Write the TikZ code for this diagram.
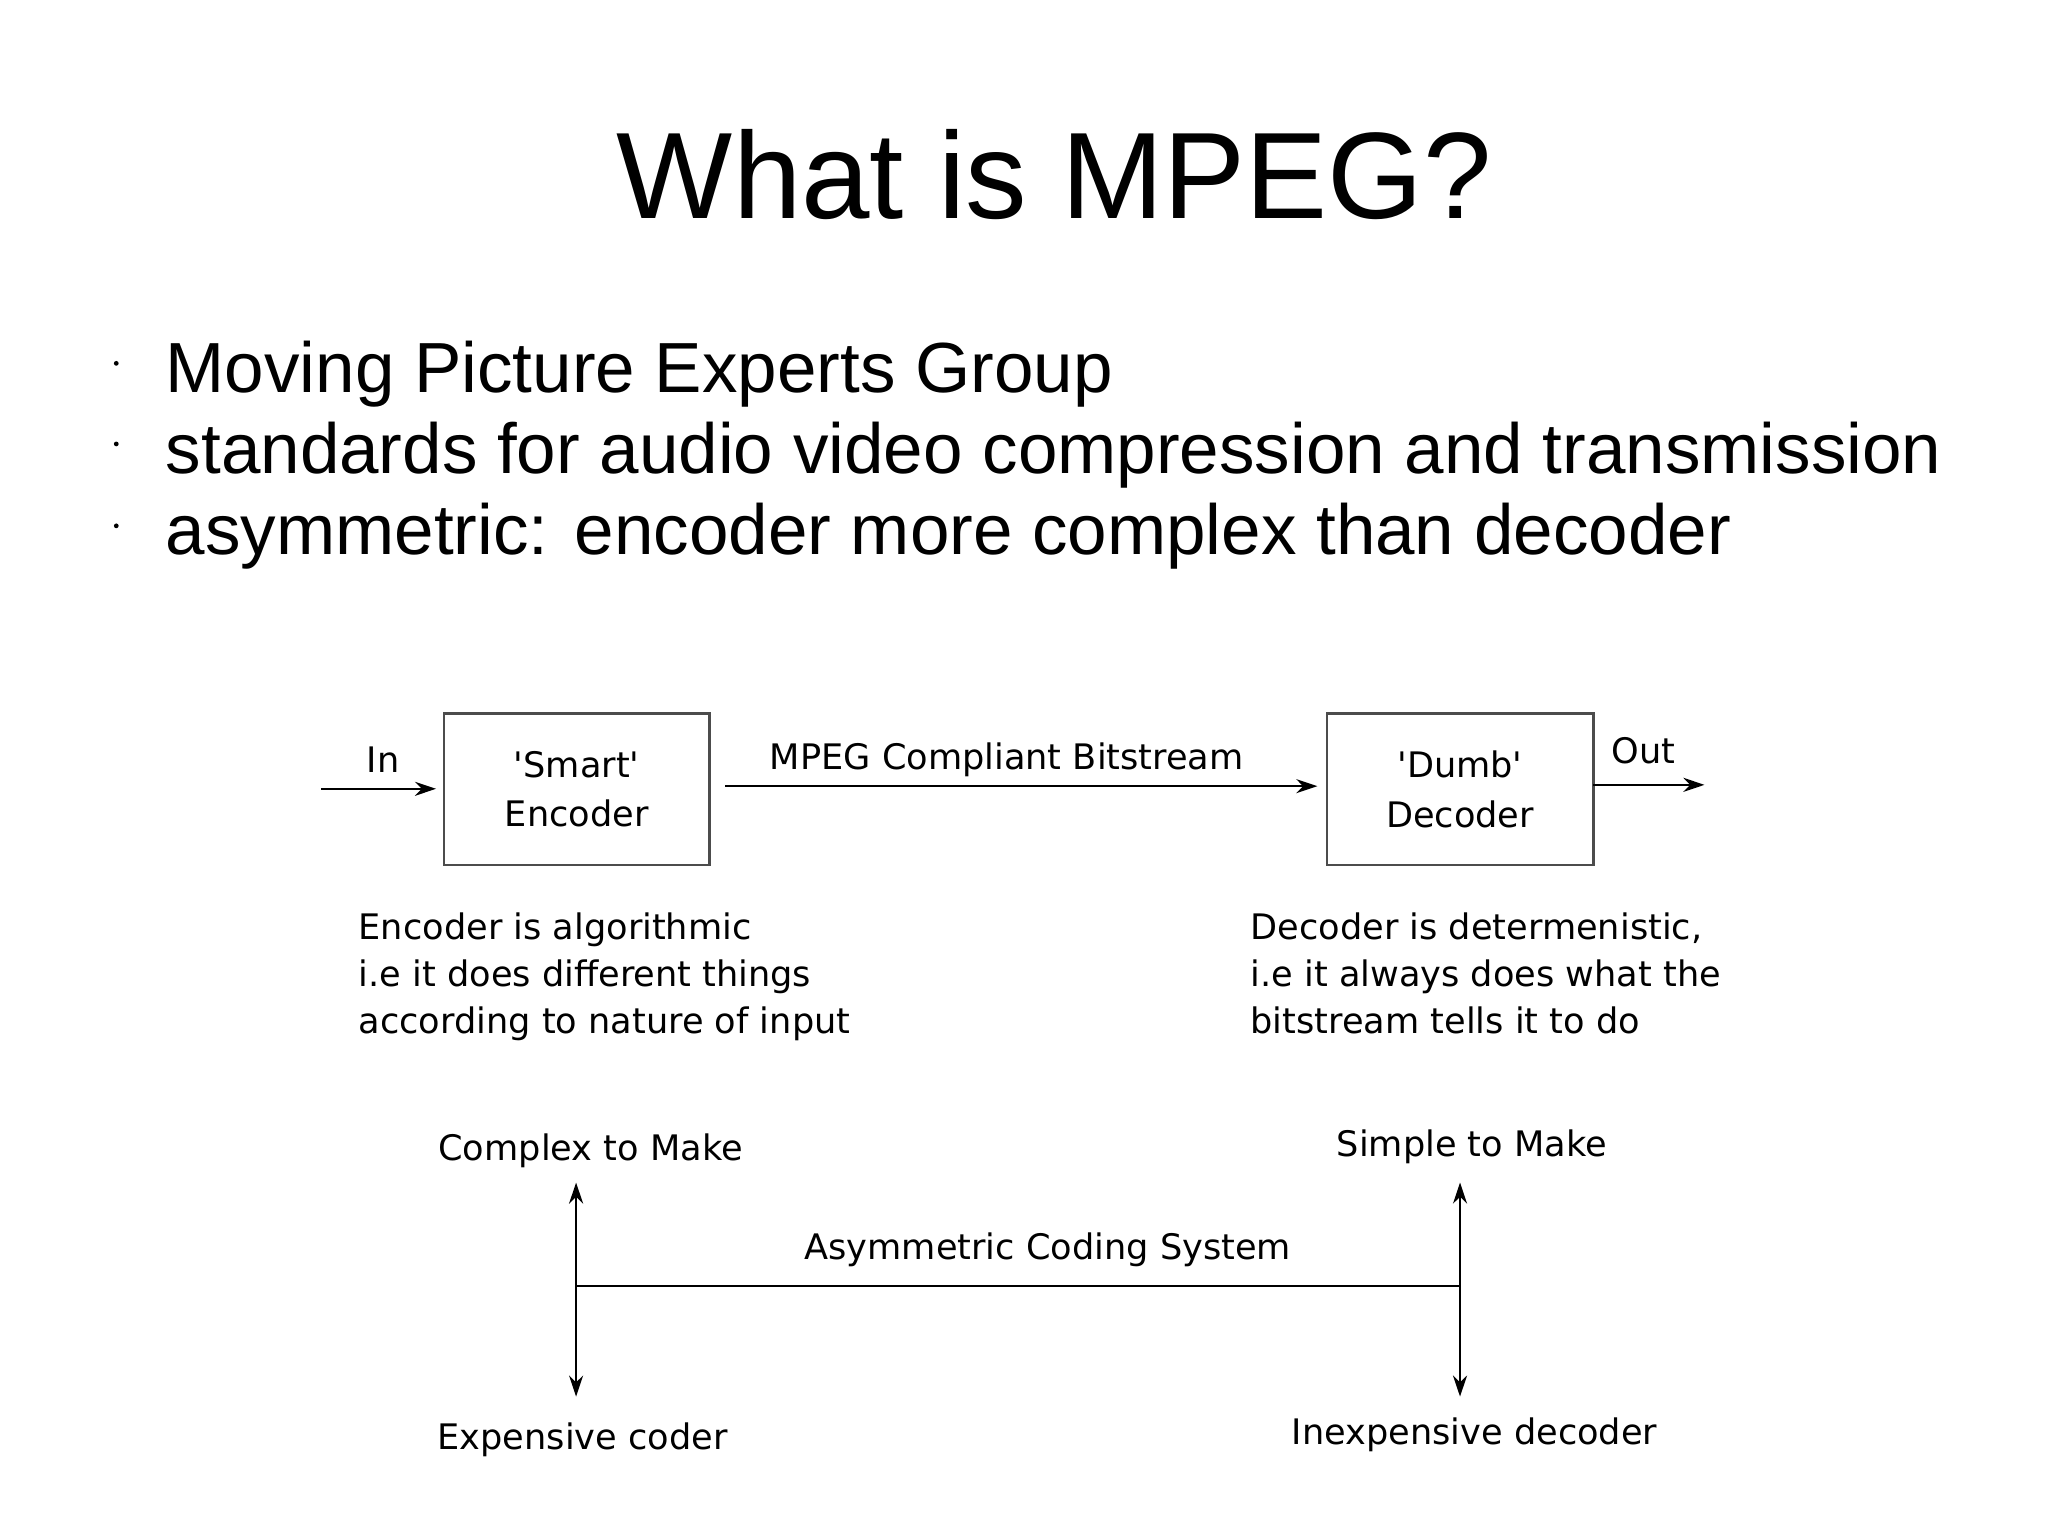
\documentclass[tikz,border=0pt]{standalone}
\usepackage{fontspec}
\setmainfont{Liberation Sans}
\newfontfamily\djvfont{DejaVu Sans}
\usetikzlibrary{arrows.meta}
\begin{document}
\begin{tikzpicture}[x=0.01321cm,y=-0.01321cm,
  box/.style={draw=black!70,line width=0.6pt},
  lbl/.style={font=\djvfont\fontsize{10}{12}\selectfont,inner sep=0pt},
  arr/.style={-{Stealth[length=6pt,width=4pt]},line width=0.6pt},
  bul/.style={font=\fontsize{20.2}{24}\selectfont,anchor=base west,inner sep=0pt}]
\useasboundingbox (0,0) rectangle (1550,1162);
\node[font=\fontsize{35}{42}\selectfont,anchor=base,inner sep=0pt] (title) at (798,165) {What is MPEG?};
\foreach \y/\t [count=\i] in {297/Moving Picture Experts Group,358/standards for audio video compression and transmission,420/asymmetric: encoder more complex than decoder}{
  \node[bul] (b\i) at (125,\y) {\t};
  \fill (88,\y-22) circle (1.8) coordinate (d\i);
}
\draw[box] (336,540) rectangle (537,655);
\node[lbl,align=center] (enc) at (436.5,597.5) {'Smart'\\[2pt]Encoder};
\draw[box] (1004,540) rectangle (1206,655);
\node[lbl,align=center] (dec) at (1105,597.5) {'Dumb'\\[2pt]Decoder};
\coordinate (inS) at (243,597);
\draw[arr] (inS) -- (330,597);
\node[lbl] (in) at (290,575) {In};
\draw[arr] (549,595) -- (997,595);
\node[lbl] (bs) at (762,575) {MPEG Compliant Bitstream};
\draw[arr] (1206,594) -- (1290,594);
\node[lbl] (out) at (1244,568) {Out};
\node[lbl,align=left,anchor=north west] (et) at (271,690) {Encoder is algorithmic\\[1.5pt]i.e it does different things\\[1.5pt]according to nature of input};
\node[lbl,align=left,anchor=north west] (dt) at (946,690) {Decoder is determenistic,\\[1.5pt]i.e it always does what the\\[1.5pt]bitstream tells it to do};
\draw[line width=0.6pt] (436,973) -- (1106,973);
\draw[line width=0.6pt,{Stealth[length=6pt,width=4pt]}-{Stealth[length=6pt,width=4pt]}] (436,895) -- (436,1057);
\draw[line width=0.6pt,{Stealth[length=6pt,width=4pt]}-{Stealth[length=6pt,width=4pt]}] (1105,895) -- (1105,1057);
\node[lbl] (cm) at (447,871) {Complex to Make};
\node[lbl] (sm) at (1114,868) {Simple to Make};
\node[lbl] (acs) at (793,946) {Asymmetric Coding System};
\node[lbl] (ec) at (441,1090) {Expensive coder};
\node[lbl] (id) at (1116,1086) {Inexpensive decoder};
\end{tikzpicture}
\end{document}
